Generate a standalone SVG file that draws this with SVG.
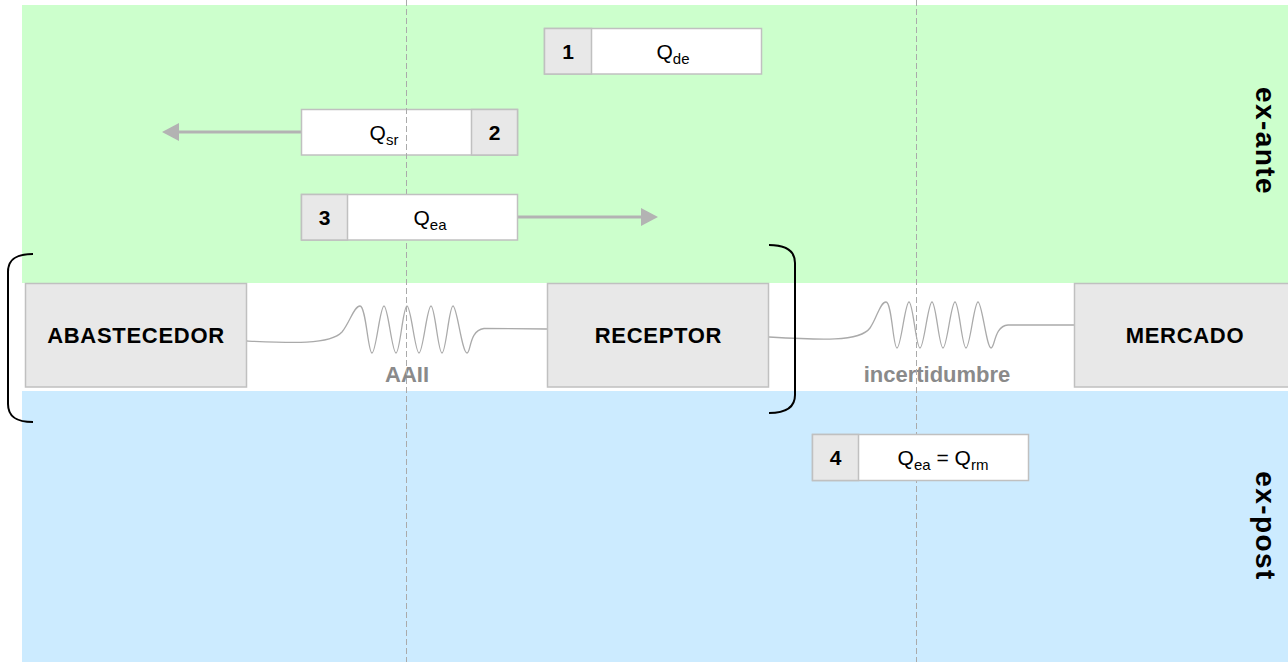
<svg xmlns="http://www.w3.org/2000/svg" width="1288" height="662" viewBox="0 0 1288 662">
  <style>
    text { font-family: "Liberation Sans", Arial, Helvetica, sans-serif; }
    .node { fill: #e8e8e8; stroke: #c0c0c0; stroke-width: 1.5; }
    .cell { fill: #ffffff; stroke: #c0c0c0; stroke-width: 1.5; }
    .num { fill: #e8e8e8; stroke: #c0c0c0; stroke-width: 1.5; }
    .nodeLabel { font-size: 22px; font-weight: bold; fill: #000; text-anchor: middle; letter-spacing: 0.7px; }
    .numLabel { font-size: 21px; font-weight: bold; fill: #000; text-anchor: middle; }
    .qLabel { font-size: 21px; fill: #000; text-anchor: middle; }
    .sub { font-size: 15px; }
    .waveLabel { font-size: 22px; font-weight: bold; fill: #8a8a8a; text-anchor: middle; }
    .phase { font-size: 28px; font-weight: bold; fill: #000; text-anchor: middle; letter-spacing: 1.4px; }
    .guide { stroke: #aaaaaa; stroke-width: 1; stroke-dasharray: 6 3; fill: none; }
    .wave { stroke: #aaaaaa; stroke-width: 1.3; fill: none; }
    .arrow { stroke: #b3b3b3; stroke-width: 3; fill: none; marker-end: url(#head); }
    .bracket { stroke: #000; stroke-width: 2; fill: none; }
  </style>
  <defs>
    <marker id="head" viewBox="0 0 17 18" refX="2" refY="9" markerWidth="17" markerHeight="18" markerUnits="userSpaceOnUse" orient="auto">
      <path d="M0,0 L17,9 L0,18 z" fill="#b3b3b3"/>
    </marker>
  </defs>

  <!-- phase bands -->
  <g id="bands">
    <rect x="22" y="5" width="1266" height="278" fill="#ccffcc"/>
    <rect x="22" y="391" width="1266" height="271" fill="#ccebff"/>
  </g>

  <!-- connectors: noisy links between actors and flow arrows -->
  <g id="connectors">
    <path class="wave" d="M247,341 C290,343 330,345 342,332 C350,322 354,306 360,306
      S368,353 372,353 S380,306 384,306 S392,353 396,353 S403,306 407,306
      S415,353 419,353 S427,306 431,306 S438,353 442,353 S449,306 453,306
      S462,353 467,353 C471,353 469,330 484,328.5 L547,329"/>
    <path class="wave" d="M769,337 C820,340 860,342 870,328 C877,318 880,302 886,302
      S893,348 897,348 S905,302 909,302 S916,348 920,348 S928,302 932,302
      S939,348 943,348 S951,302 955,302 S962,348 966,348 S974,302 978,302
      S986.5,348 991,348 C995,348 994,326 1008,325 L1074,325"/>
    <line class="arrow" x1="301" y1="132" x2="177" y2="132"/>
    <line class="arrow" x1="518" y1="217" x2="643" y2="217"/>
  </g>

  <g id="label-aaii">
    <text class="waveLabel" x="407" y="382">AAII</text>
  </g>
  <g id="label-incertidumbre">
    <text class="waveLabel" x="937" y="382">incertidumbre</text>
  </g>

  <g id="step2">
    <rect class="cell" x="301.5" y="109.5" width="216" height="45.5"/>
    <rect class="num" x="471.5" y="109.5" width="46" height="45.5"/>
    <text class="qLabel" x="384" y="140">Q<tspan class="sub" dy="5">sr</tspan></text>
    <text class="numLabel" x="494.5" y="140">2</text>
  </g>

  <!-- vertical reference guides -->
  <g id="guides">
    <line class="guide" x1="406.5" y1="0" x2="406.5" y2="662"/>
    <line class="guide" x1="916.5" y1="0" x2="916.5" y2="662"/>
  </g>

  <g id="step1">
    <rect class="cell" x="544.5" y="28.5" width="217" height="45.5"/>
    <rect class="num" x="544.5" y="28.5" width="47" height="45.5"/>
    <text class="numLabel" x="568" y="59">1</text>
    <text class="qLabel" x="673" y="59">Q<tspan class="sub" dy="5">de</tspan></text>
  </g>

  <g id="step3">
    <rect class="cell" x="301.5" y="194.5" width="216" height="45.5"/>
    <rect class="num" x="301.5" y="194.5" width="46" height="45.5"/>
    <text class="numLabel" x="324.5" y="225">3</text>
    <text class="qLabel" x="430" y="225">Q<tspan class="sub" dy="5">ea</tspan></text>
  </g>

  <g id="step4">
    <rect class="cell" x="812.5" y="434.5" width="216" height="46"/>
    <rect class="num" x="812.5" y="434.5" width="46" height="46"/>
    <text class="numLabel" x="835.5" y="465">4</text>
    <text class="qLabel" x="943" y="465">Q<tspan class="sub" dy="5">ea</tspan><tspan dy="-5"> = Q</tspan><tspan class="sub" dy="5">rm</tspan></text>
  </g>

  <g id="abastecedor">
    <rect class="node" x="25.5" y="283.5" width="221" height="103.5"/>
    <text class="nodeLabel" x="136" y="343">ABASTECEDOR</text>
  </g>
  <g id="receptor">
    <rect class="node" x="547.5" y="283.5" width="221" height="103.5"/>
    <text class="nodeLabel" x="658.5" y="343">RECEPTOR</text>
  </g>
  <g id="mercado">
    <rect class="node" x="1074.5" y="283.5" width="222" height="103.5"/>
    <text class="nodeLabel" x="1185" y="343">MERCADO</text>
  </g>

  <!-- bracket grouping supplier and receiver -->
  <g id="bracket">
    <path class="bracket" d="M33,254 C18,254 8,258 8,272 L8,404 C8,418 18,422 33,422"/>
    <path class="bracket" d="M769,245 C784,245 795,249 795,263 L795,395 C795,409 784,413 769,413"/>
  </g>

  <g id="phase-ex-ante">
    <text class="phase" transform="translate(1256,141) rotate(90)">ex-ante</text>
  </g>
  <g id="phase-ex-post">
    <text class="phase" transform="translate(1256,526) rotate(90)">ex-post</text>
  </g>
</svg>
